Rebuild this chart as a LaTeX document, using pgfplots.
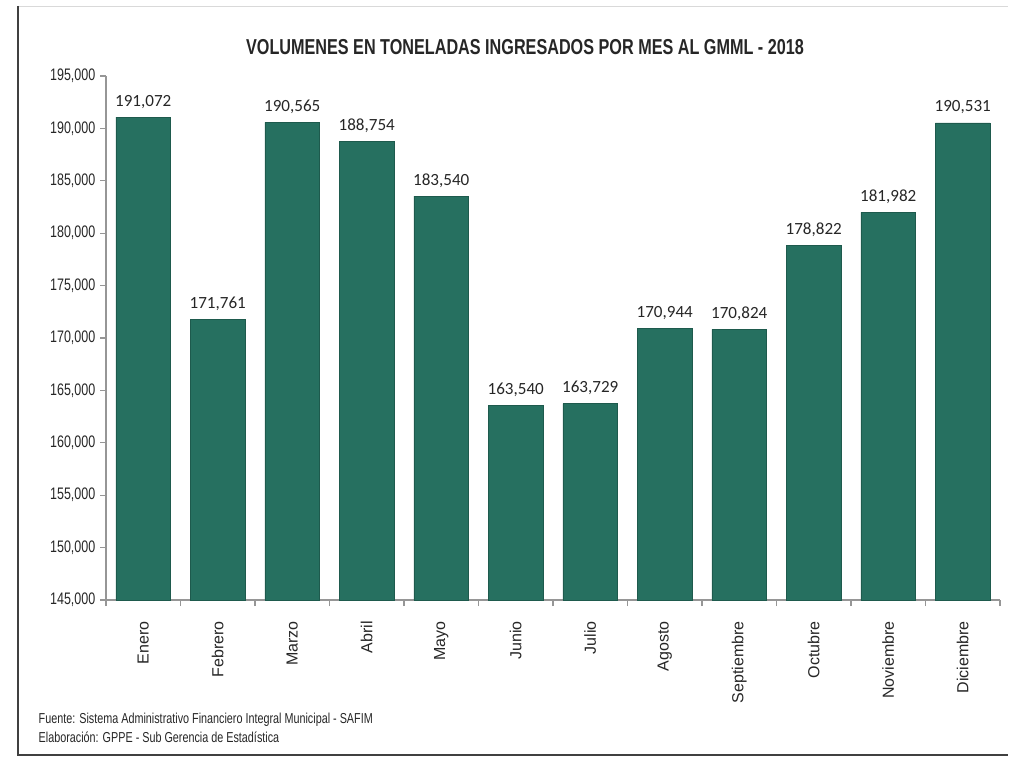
\documentclass[border=0pt]{standalone}
\usepackage{fontspec}
\setmainfont{Liberation Sans}
\newfontfamily\narrowfont[FakeStretch=0.75]{Liberation Sans}
\newfontfamily\calibri{Carlito}
\usepackage{pgfplots}
\pgfplotsset{compat=1.18}
\definecolor{barteal}{RGB}{38,112,96}
\definecolor{axisgray}{RGB}{150,150,150}

\begin{document}
\begin{tikzpicture}[x=0.75pt,y=0.75pt]
% page size in reference pixels
\path (0,0) rectangle (1013,761);
% scanned frame
\draw[black!15, line width=0.6pt] (18,755) -- (1008,755);
\draw[black!75, line width=1pt] (18,755) -- (18,6) -- (1008,6);

\node[font=\narrowfont\bfseries\fontsize{16.2}{18}\selectfont, text=black!85] at (525,714) {VOLUMENES EN TONELADAS INGRESADOS POR MES AL GMML - 2018};

\begin{axis}[
    at={(79.5pt,120.75pt)}, anchor=south west,
    scale only axis,
    width=670.5pt, height=393pt,
    xmin=-0.5, xmax=11.5,
    ymin=145000, ymax=195000,
    ytick distance=5000,
    scaled y ticks=false,
    axis x line*=bottom,
    axis y line*=left,
    axis line style={axisgray, line width=0.8pt},
    tick style={axisgray, line width=0.8pt},
    tick align=outside,
    major tick length=4.5pt,
    minor tick length=4.5pt,
    /pgf/number format/assume math mode=true,
    /pgf/number format/fixed,
    /pgf/number format/1000 sep={,},
    yticklabel style={font=\narrowfont\fontsize{12.5}{14}\selectfont, text=black!85},
    xtick={0,...,11},
    xticklabels={Enero,Febrero,Marzo,Abril,Mayo,Junio,Julio,Agosto,Septiembre,Octubre,Noviembre,Diciembre},
    major x tick style={draw=none},
    minor xtick={-0.5,0.5,...,11.5},
    xticklabel style={rotate=90, anchor=east, font=\fontsize{12}{14}\selectfont, text=black!85, xshift=-8pt},
    ybar,
    bar width=41pt,
    nodes near coords,
    every node near coord/.append style={font=\calibri\fontsize{12.8}{14}\selectfont, text=black!85, yshift=3pt},
    clip=false,
]
\addplot[fill=barteal, draw=barteal!80!black, line width=0.5pt] coordinates {
    (0,191072) (1,171761) (2,190565) (3,188754) (4,183540) (5,163540)
    (6,163729) (7,170944) (8,170824) (9,178822) (10,181982) (11,190531)
};
\end{axis}

\node[anchor=west, font=\narrowfont\fontsize{10.8}{12}\selectfont, text=black!85] at (34,41) {Fuente: Sistema Administrativo Financiero Integral Municipal - SAFIM};
\node[anchor=west, font=\narrowfont\fontsize{10.8}{12}\selectfont, text=black!85] at (34,24) {Elaboración: GPPE - Sub Gerencia de Estadística};
\end{tikzpicture}
\end{document}
